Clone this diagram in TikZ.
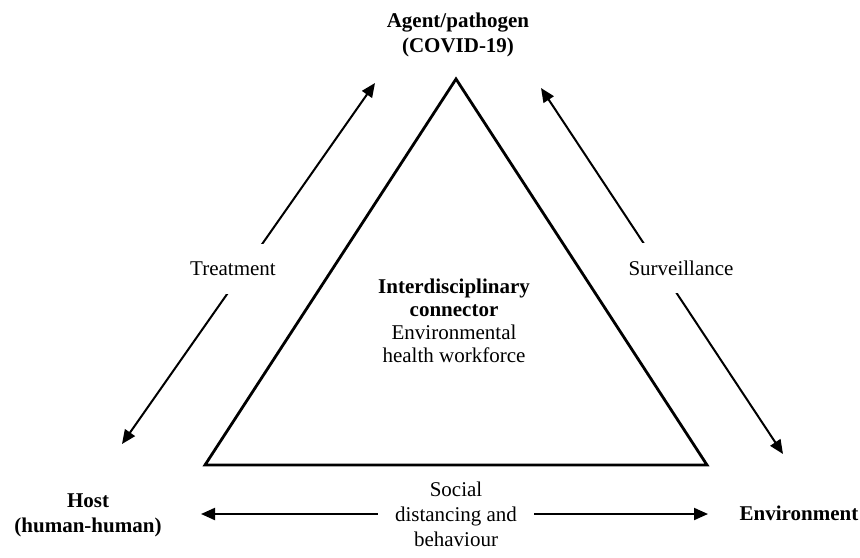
\documentclass[tikz,border=0pt]{standalone}
\usepackage{fontspec}
\setmainfont{Liberation Serif}
\usetikzlibrary{arrows.meta}
\begin{document}
\begin{tikzpicture}[x=0.5pt,y=-0.5pt,
  lab/.style={font=\fontsize{10.5}{12.5}\selectfont, align=center, inner sep=0pt},
  blab/.style={lab, font=\fontsize{10.5}{12.5}\selectfont\bfseries},
  tip/.style={Triangle[length=7pt,width=6pt]},
  dblarr/.style={line width=1pt, {Triangle[length=7pt,width=6pt]}-{Triangle[length=7pt,width=6pt]}},
  onearr/.style={line width=1pt, -{Triangle[length=7pt,width=6pt]}},
  tri/.style={line width=1.4pt, line join=miter},
  cover/.style={fill=white, inner xsep=3pt, minimum height=25pt}]
\useasboundingbox (0,0) rectangle (860,557);
% triangle
\coordinate (apex) at (456,79);
\coordinate (bl) at (205,465);
\coordinate (br) at (707,465);
\draw[tri] (apex) -- (bl) -- (br) -- cycle;
% corner labels
\node[blab] (agent) at (458,35) {Agent/pathogen\\(COVID-19)};
\node[blab] (host) at (88,515) {Host\\(human-human)};
\node[blab] (env) at (799,513) {Environment};
% centre text
\node[lab, font=\fontsize{10.5}{11.5}\selectfont] (centre) at (454,321)
  {\textbf{Interdisciplinary}\\\textbf{connector}\\Environmental\\health workforce};
% treatment arrow
\coordinate (tLow) at (122,444);
\coordinate (tUp) at (375,83);
\draw[dblarr] (tLow) -- (tUp);
\node[lab, cover] (treat) at (233,269) {Treatment};
% surveillance arrow
\coordinate (sUp) at (541,88);
\coordinate (sLow) at (783,454);
\draw[dblarr] (sUp) -- (sLow);
\node[lab, cover] (surv) at (681,268) {Surveillance};
% bottom arrows
\node[lab, inner xsep=8.5pt, font=\fontsize{10.5}{12.5}\selectfont] (social) at (456,514)
  {Social\\distancing and\\behaviour};
\coordinate (hTip) at (201,514);
\coordinate (eTip) at (708,514);
\draw[onearr] (social.west) -- (hTip);
\draw[onearr] (social.east) -- (eTip);
\end{tikzpicture}
\end{document}
